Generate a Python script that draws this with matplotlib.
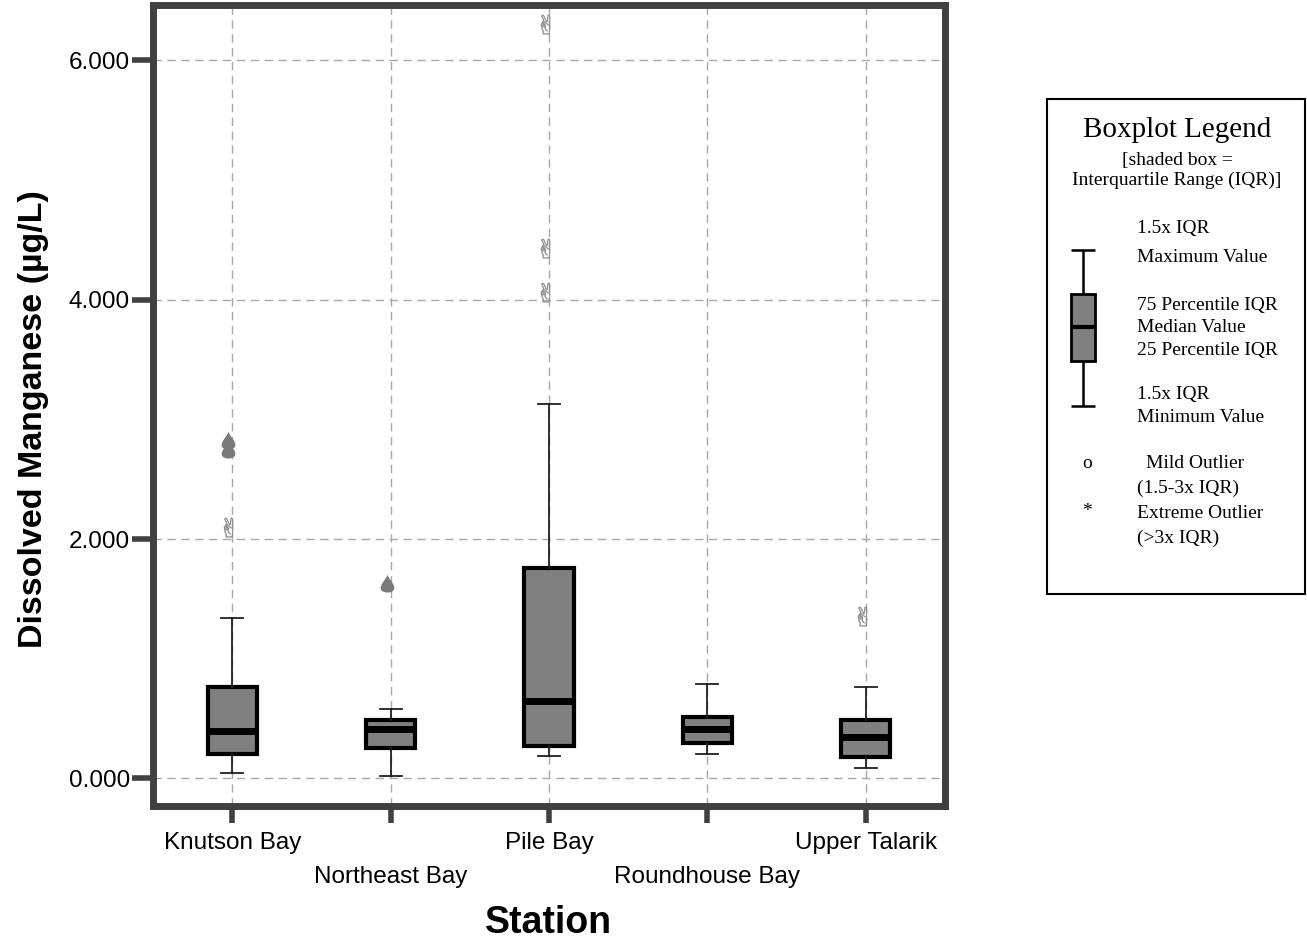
import matplotlib
matplotlib.use("Agg")
import matplotlib.pyplot as plt
import numpy as np
from matplotlib.path import Path
from matplotlib.patches import Rectangle
from matplotlib.lines import Line2D
from matplotlib.transforms import ScaledTranslation

# ---------------- data ----------------
stations = ["Knutson Bay", "Northeast Bay", "Pile Bay", "Roundhouse Bay", "Upper Talarik"]
whis_lo = [44, 20, 184, 206, 89]
q1 = [200, 251, 273, 298, 178]
med = [395, 415, 646, 412, 345]
q3 = [763, 490, 1761, 512, 485]
whis_hi = [1343, 579, 3125, 785, 763]

mild_station = [0, 0, 1]
mild_value = [2830, 2750, 1630]
extreme_station = [0, 2, 2, 2, 4]
extreme_value = [2097, 6300, 4430, 4065, 1354]

yticks = [0, 2000, 4000, 6000]
ytick_labels = ["0.000", "2.000", "4.000", "6.000"]

W, H = 1307, 944
fig = plt.figure(figsize=(W / 100, H / 100), dpi=100)
ax = fig.add_axes([153 / W, 1 - 806 / H, 792 / W, 801 / H])

SPINE = "#404040"
GRID = "#a8a8a8"

# grid
ax.set_axisbelow(True)
ax.grid(True, color=GRID, linestyle=(0, (6, 4)), linewidth=1.0)

# boxes
stats = []
for i in range(len(stations)):
    stats.append(dict(label=stations[i], whislo=whis_lo[i], q1=q1[i], med=med[i],
                      q3=q3[i], whishi=whis_hi[i], fliers=[]))
pos = np.arange(len(stations))
ax.bxp(stats, positions=pos, widths=0.31, capwidths=0.14, patch_artist=True,
       showfliers=False,
       boxprops=dict(facecolor="#808080", edgecolor="black", linewidth=3),
       medianprops=dict(color="black", linewidth=5, solid_capstyle="butt"),
       whiskerprops=dict(color="#202020", linewidth=1.3),
       capprops=dict(color="#202020", linewidth=1.3))

# drop-shaped marker for mild outliers (point up)
t = np.linspace(0, 2 * np.pi, 60)
dx = np.sin(t) * (1 - np.cos(t)) / 2 * 0.9
dy = np.cos(t)
drop = Path(np.column_stack([dx * 1.3, dy]), closed=True)

off = ScaledTranslation(-4 / 100, 0, fig.dpi_scale_trans)
ln, = ax.plot(mild_station, mild_value, linestyle="none", marker=drop, markersize=13,
              color="#7a7a7a", markeredgewidth=0)
ln.set_transform(ax.transData + off)
ln2, = ax.plot(extreme_station, extreme_value, linestyle="none", marker="$✌$", markersize=14,
               color="#8a8a8a", markeredgewidth=0.3)
ln2.set_transform(ax.transData + off)

ax.set_xlim(-0.5, 4.5)
ax.set_ylim(-231, 6462)

ax.set_xticks(pos)
ax.set_xticklabels([])
for k, name in enumerate(stations):
    dy_px = 37 if k % 2 == 0 else 71
    ax.text(pos[k], 0, name, fontsize=17.5, family="Liberation Sans", ha="center", va="center",
            transform=ax.get_xaxis_transform() + ScaledTranslation(0, -dy_px / 100, fig.dpi_scale_trans))
ax.set_yticks(yticks)
ax.set_yticklabels(ytick_labels, fontsize=17.5, family="Liberation Sans")

ax.tick_params(axis="x", direction="out", length=12, width=4, color=SPINE, pad=12)
ax.tick_params(axis="y", direction="out", length=15, width=4, color=SPINE, pad=1.5)

for s in ax.spines.values():
    s.set_color(SPINE)
    s.set_linewidth(5)

ax.set_ylabel("Dissolved Manganese (µg/L)", fontsize=24.5, fontweight="bold",
              family="Liberation Sans")
ax.yaxis.set_label_coords(-0.1515, 0.483)
ax.yaxis.label.set_va("center")
ax.set_xlabel("Station", fontsize=27, fontweight="bold", family="Liberation Sans")
ax.xaxis.set_label_coords(0.5, -0.146)
ax.xaxis.label.set_va("center")

# ---------------- legend box ----------------
def P(x, y):
    return (x / W, 1 - y / H)

x0, y0 = P(1047, 99)
x1, y1 = P(1305, 594)
fig.add_artist(Rectangle((x0, y1), x1 - x0, y0 - y1, transform=fig.transFigure,
                         facecolor="white", edgecolor="black", linewidth=1.5))

serif = "Liberation Serif"
def T(x, y, s, size=14, ha="left"):
    fig.text(*P(x, y), s, fontsize=size, family=serif, ha=ha, va="center")

T(1177, 130, "Boxplot Legend", size=21, ha="center")
T(1177, 160, "[shaded box =", ha="center")
T(1177, 180, "Interquartile Range (IQR)]", ha="center")
T(1137, 228, "1.5x IQR")
T(1137, 258, "Maximum Value")
T(1137, 305, "75 Percentile IQR")
T(1137, 327, "Median Value")
T(1137, 350, "25 Percentile IQR")
T(1137, 395, "1.5x IQR")
T(1137, 418, "Minimum Value")
T(1087, 463, "o", ha="center")
T(1146, 463, "Mild Outlier")
T(1137, 488, "(1.5-3x IQR)")
T(1087, 512, "*", ha="center")
T(1137, 513, "Extreme Outlier")
T(1137, 538, "(>3x IQR)")

# legend box icon
cx = 1083
def L(xs, ys, lw=1.8):
    pts = [P(a, b) for a, b in zip(xs, ys)]
    fig.add_artist(Line2D([p[0] for p in pts], [p[1] for p in pts], transform=fig.transFigure,
                          color="black", linewidth=lw, solid_capstyle="butt"))
L([cx, cx], [250, 294])
L([cx, cx], [361, 406])
L([1071, 1095], [250, 250])
L([1071, 1095], [406, 406])
bx0, by0 = P(1071, 294)
bx1, by1 = P(1095, 361)
fig.add_artist(Rectangle((bx0, by1), bx1 - bx0, by0 - by1, transform=fig.transFigure,
                         facecolor="#808080", edgecolor="black", linewidth=2))
L([1071, 1095], [327, 327], lw=3)

fig.savefig("out.png", dpi=100)
